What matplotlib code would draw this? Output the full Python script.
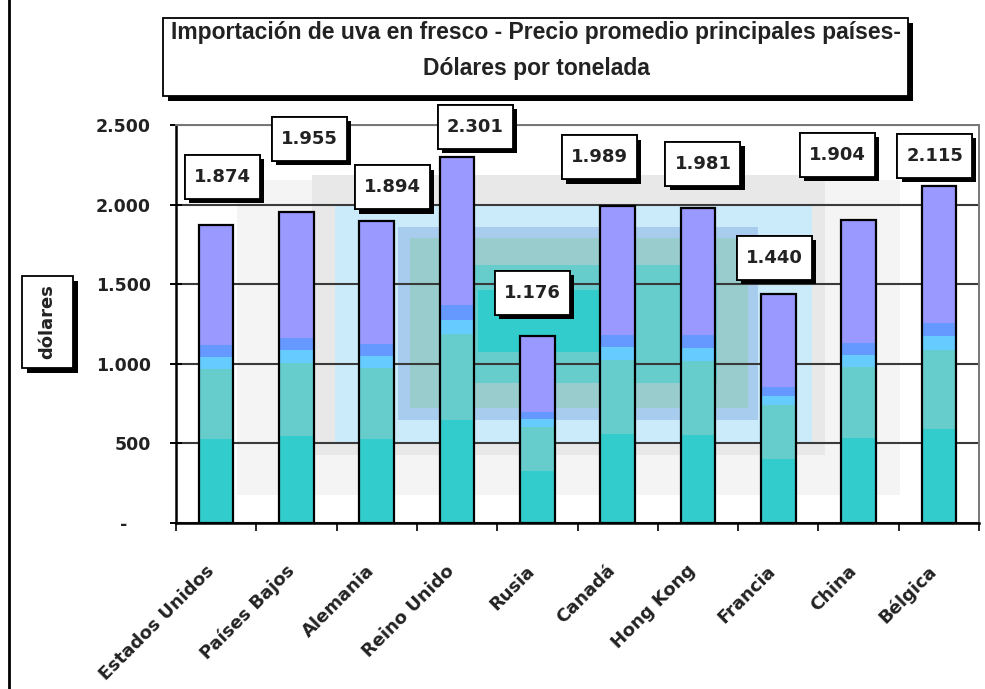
import matplotlib
matplotlib.use("Agg")
import matplotlib.pyplot as plt
import matplotlib.patches as mpatches
import matplotlib.patheffects as pe
from matplotlib.path import Path
from matplotlib.transforms import offset_copy
from matplotlib.lines import Line2D
import numpy as np

# datos
paises = ["Estados Unidos", "Países Bajos", "Alemania", "Reino Unido", "Rusia",
          "Canadá", "Hong Kong", "Francia", "China", "Bélgica"]
precios = [1874, 1955, 1894, 2301, 1176, 1989, 1981, 1440, 1904, 2115]
y_ticks = [0, 500, 1000, 1500, 2000, 2500]
y_labels = ["-    ", "500", "1.000", "1.500", "2.000", "2.500"]

# posicion de las etiquetas de valor (pixeles, relativo a la punta de la barra)
label_dx = [6, 13, 16, 18, -5, -18, 5, -4, -21, -4]
label_dy = [48, 73, 34, 30, 43, 49, 44, 36, 65, 30]

W, H = 985, 689
fig = plt.figure(figsize=(W / 100, H / 100), dpi=100)
fig.patch.set_facecolor("white")

# plot area in pixels: x 176..979, y 125..523
ax = fig.add_axes([176 / W, (H - 523) / H, 803 / W, 398 / H])
ax.set_xlim(-0.5, 9.5)
ax.set_ylim(0, 2500)
ax.set_axisbelow(True)

# fondo degradado "desde el centro" (rectangulos anidados)
def px_rect(x0, x1, y0, y1, color):
    r = mpatches.Rectangle(((x0 - 176) / 803, (523 - y1) / 398),
                           (x1 - x0) / 803, (y1 - y0) / 398,
                           transform=ax.transAxes, facecolor=color,
                           edgecolor="none", zorder=0.1)
    ax.add_patch(r)

px_rect(237, 900, 180, 495, "#F4F4F4")
px_rect(312, 825, 175, 455, "#E8E8E8")
px_rect(335, 812, 205, 442, "#CCEBFA")
px_rect(398, 758, 227, 420, "#A8CCEE")
px_rect(410, 748, 238, 408, "#99CCCC")
px_rect(440, 717, 265, 383, "#66CCCC")
px_rect(478, 600, 290, 352, "#33CCCC")

# barras con bandas de color
x = np.arange(len(paises))
vals = np.array(precios, dtype=float)
bar_w = 0.43
bandas = [0.0, 0.28, 0.515, 0.555, 0.595, 1.0]
colores = ["#33CCCC", "#66CCCC", "#66CCFF", "#6699FF", "#9999FF"]
for k in range(len(colores)):
    ax.bar(x, vals * (bandas[k + 1] - bandas[k]), bottom=vals * bandas[k],
           width=bar_w, color=colores[k], linewidth=0, zorder=2)
ax.bar(x, vals, width=bar_w, fill=False, edgecolor="black", linewidth=1.6, zorder=3)

# grilla y ejes
ax.yaxis.grid(True, color="#3a3a3a", linewidth=1.5)
ax.set_yticks(y_ticks)
ax.set_yticklabels(y_labels, fontsize=12.5, fontweight="bold", color="#222222",
                   family="DejaVu Sans")
ax.tick_params(axis="y", direction="inout", length=8, width=1.4, pad=14)
ax.set_xticks(np.arange(-0.5, 10, 1.0))
ax.set_xticklabels([])
ax.tick_params(axis="x", direction="out", length=6, width=1.2)
for s in ["left", "bottom"]:
    ax.spines[s].set_color("black")
    ax.spines[s].set_linewidth(1.8)
for s in ["top", "right"]:
    ax.spines[s].set_color("#777777")
    ax.spines[s].set_linewidth(1.4)

# etiquetas del eje x (rotadas)
trans = offset_copy(ax.get_xaxis_transform(), fig=fig, x=-5, y=-45, units="dots")
for i, p in enumerate(paises):
    ax.text(i, 0, p, transform=trans, rotation=45, ha="right", va="center",
            rotation_mode="anchor", fontsize=13, fontweight="bold",
            color="#222222", family="DejaVu Sans")

# caja rectangular con mas relleno vertical que horizontal
def caja(x0, y0, width, height, mutation_size):
    px, py = 0.5 * mutation_size, 0.72 * mutation_size
    x0, y0 = x0 - px, y0 - py
    x1, y1 = x0 + width + 2 * px, y0 + height + 2 * py
    return Path([(x0, y0), (x1, y0), (x1, y1), (x0, y1), (x0, y0)],
                [Path.MOVETO, Path.LINETO, Path.LINETO, Path.LINETO, Path.CLOSEPOLY])

# etiquetas de valor con sombra
for i, v in enumerate(precios):
    t = ax.annotate(f"{v / 1000:.3f}", xy=(i, v),
                    xytext=(label_dx[i] * 0.72, label_dy[i] * 0.72),
                    textcoords="offset points", ha="center", va="center",
                    fontsize=13, fontweight="bold", color="#222222",
                    family="DejaVu Sans", zorder=6, annotation_clip=False,
                    bbox=dict(boxstyle=caja, fc="white", ec="black", lw=1.3))
    t.get_bbox_patch().set_path_effects(
        [pe.withSimplePatchShadow(offset=(3, -3), shadow_rgbFace="black", alpha=1.0),
         pe.Normal()])

# caja del titulo
def fig_box(x0, x1, y0, y1):
    sh = mpatches.Rectangle(((x0 + 5) / W, (H - y1 - 5) / H), (x1 - x0) / W, (y1 - y0) / H,
                            transform=fig.transFigure, facecolor="black",
                            edgecolor="none", zorder=8)
    bx = mpatches.Rectangle((x0 / W, (H - y1) / H), (x1 - x0) / W, (y1 - y0) / H,
                            transform=fig.transFigure, facecolor="white",
                            edgecolor="black", linewidth=1.3, zorder=9)
    fig.patches.extend([sh, bx])

fig_box(163, 908, 18, 96)
fig.text(536 / W, (H - 33) / H, "Importación de uva en fresco - Precio promedio principales países-",
         ha="center", va="center", fontsize=16.5, fontweight="bold",
         family="Liberation Sans", color="#222222", zorder=10)
fig.text(536 / W, (H - 68) / H, "Dólares por tonelada",
         ha="center", va="center", fontsize=16.5, fontweight="bold",
         family="Liberation Sans", color="#222222", zorder=10)

# caja del eje y
fig_box(22, 73, 276, 368)
fig.text(47 / W, (H - 322) / H, "dólares", rotation=90, ha="center", va="center",
         fontsize=13, fontweight="bold", family="DejaVu Sans", color="#222222",
         zorder=10)

# linea vertical izquierda
fig.lines.append(Line2D([9 / W, 9 / W], [0, 1], transform=fig.transFigure,
                        color="black", linewidth=2))

fig.savefig("out.png", dpi=100)
